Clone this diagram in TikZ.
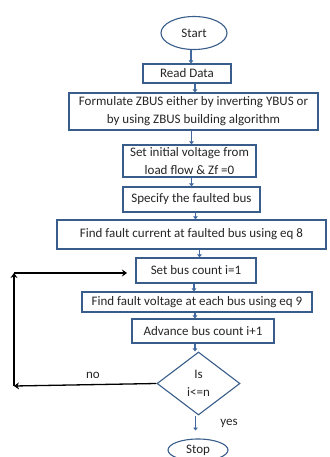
\documentclass[tikz,border=0pt]{standalone}
\usepackage{fontspec}
\setmainfont{Carlito}
\usetikzlibrary{shapes.geometric,arrows.meta}
\definecolor{edgeblue}{RGB}{56,93,138}
\definecolor{linkblue}{RGB}{65,105,160}
\tikzset{
  x=1pt, y=1pt,
  every node/.style={font=\fontsize{13}{18}\selectfont, text=black!85, inner sep=0pt, align=center},
  procbox/.style={draw=edgeblue, line width=1.1pt, fill=white, rectangle},
  terminal/.style={draw=edgeblue, line width=1.1pt, fill=white, ellipse},
  decision/.style={draw=edgeblue, line width=1.1pt, fill=white, diamond, aspect=1.3},
  link/.style={draw=linkblue, line width=1.4pt, -{Triangle[width=4.5pt,length=3pt]}},
  backlink/.style={draw=black, line width=1.3pt, -{Stealth[width=7pt,length=5pt]}},
}
\begin{document}
\begin{tikzpicture}
\useasboundingbox (0,0) rectangle (329,-457);

\node[terminal, minimum width=66, minimum height=33] (start) at (194,-33) {Start};
\node[procbox, minimum width=88, minimum height=19] (read) at (187,-73.5) {Read Data};
\node[procbox, minimum width=249, minimum height=37] (form) at (193.5,-111.5)
  {Formulate ZBUS either by inverting YBUS or\\by using ZBUS building algorithm};
\node[procbox, minimum width=133, minimum height=32] (init) at (189.5,-161)
  {Set initial voltage from\\load flow \& Zf =0};
\node[procbox, minimum width=137, minimum height=25] (spec) at (191.5,-199.5) {Specify the faulted bus};
\node[procbox, minimum width=269, minimum height=29] (curr) at (191.5,-234.5)
  {Find fault current at faulted bus using eq 8};
\node[procbox, minimum width=120, minimum height=25] (count) at (196,-270.5) {Set bus count i=1};
\node[procbox, minimum width=230, minimum height=20] (volt) at (197,-302)
  {Find fault voltage at each bus using eq 9};
\node[procbox, minimum width=142, minimum height=24] (adv) at (203,-331) {Advance bus count i+1};
\node[decision, minimum width=83, minimum height=63] (dec) at (198.5,-383.5) {Is\\i<=n};
\node[terminal, minimum width=60, minimum height=22] (stop) at (198,-450) {Stop};

% forward flow
\draw[link] (start.south) ++(-3,0) coordinate (s1) -- (s1 |- read.north);
\draw[link] (read.south) ++(8,0) coordinate (s2) -- (s2 |- form.north);
\draw[link] (form.south) ++(-2,0) coordinate (s3) -- (s3 |- init.north);
\draw[link] (init.south) ++(2,0) coordinate (s4) -- (s4 |- spec.north);
\draw[link] (spec.south) ++(4,0) coordinate (s5) -- (s5 |- curr.north);
\draw[link] (curr.south) ++(8,0) coordinate (s6) -- (s6 |- count.north);
\draw[link] (count.south) ++(-2,0) coordinate (s7) -- (s7 |- volt.north);
\draw[link] (volt.south) ++(-2,0) coordinate (s8) -- (s8 |- adv.north);
\draw[link] (adv.south) ++(-8,0) coordinate (s9) -- (s9 |- dec.north);
\draw[link] (dec.south) ++(-3,0) coordinate (s10) -- ++(0,-15) coordinate (s11);

% loop back
\coordinate (lb) at (14,-386);
\coordinate (lt) at (14,-273);
\coordinate (le) at (127,-273);
\draw[backlink] (dec.west) -- (lb);
\draw[backlink] (lb) -- (lt);
\draw[backlink] (lt) -- (le);

\node (no) at (93,-375) {no};
\node (yes) at (229,-423) {yes};
\end{tikzpicture}
\end{document}
